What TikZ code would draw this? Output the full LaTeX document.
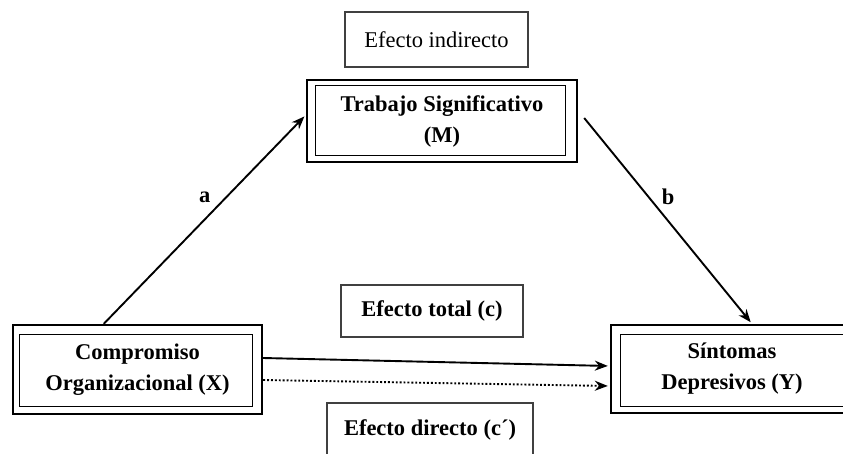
\documentclass[tikz,border=0pt]{standalone}
\usepackage{fontspec}
\setmainfont{Liberation Serif}
\usetikzlibrary{arrows.meta}

\newcommand{\diagfont}{\fontsize{22.5}{31}\selectfont}

\begin{document}
\begin{tikzpicture}
		[x=1pt, y=-1pt, font=\diagfont, line width=1.9pt,
		var/.style = {draw, line width=2.4pt, align=center, inner sep=0pt, font=\diagfont\bfseries},
		efecto/.style = {draw=black!75, line width=1.1pt, align=center, inner sep=0pt},
		frame/.style = {draw, line width=1.1pt},
		path/.style = {-{Stealth[length=13pt, width=10pt]}, shorten >=2pt}]
	\useasboundingbox (0,0) rectangle (843,453);
	\clip (0,0) rectangle (843,453);
	% variables
	\node[var, minimum width=249pt, minimum height=89pt] (x) at (137.5,369.5) {Compromiso\\Organizacional (X)};
	\node[var, minimum width=270pt, minimum height=82pt] (m) at (442,121) {Trabajo Significativo\\(M)};
	\node[var, minimum width=242pt, minimum height=88pt] (y) at (732,369) {Síntomas\\Depresivos (Y)};
	\draw[frame] ([shift={(8,11)}]x.north west) rectangle ([shift={(-11,-9)}]x.south east);
	\draw[frame] ([shift={(10,7)}]m.north west) rectangle ([shift={(-13,-8)}]m.south east);
	\draw[frame] ([shift={(11,11)}]y.north west) rectangle ([shift={(-11,-8)}]y.south east);
	% efectos
	\node[efecto, minimum width=183pt, minimum height=55pt] (ind) at (436.5,39.5) {Efecto indirecto};
	\node[efecto, minimum width=182pt, minimum height=52pt, font=\diagfont\bfseries] (tot) at (432,311) {Efecto total (c)};
	\node[efecto, minimum width=206pt, minimum height=54pt, font=\diagfont\bfseries] (dir) at (430,430) {Efecto directo (c´)};
	% caminos
	\draw[path] ([xshift=92pt]x.north west) -- node[above=12pt, font=\diagfont\bfseries] {a} ([yshift=6pt]m.west);
	\draw[path] ([yshift=3pt, xshift=6pt]m.east) -- node[above=12pt, font=\diagfont\bfseries] {b} ([xshift=20pt]y.north);
	\draw[path] ([yshift=11.5pt]x.east) -- ([yshift=3pt]y.west);
	\draw[path, dotted] ([yshift=-10.5pt]x.east) -- ([yshift=-17pt]y.west);
\end{tikzpicture}
\end{document}
